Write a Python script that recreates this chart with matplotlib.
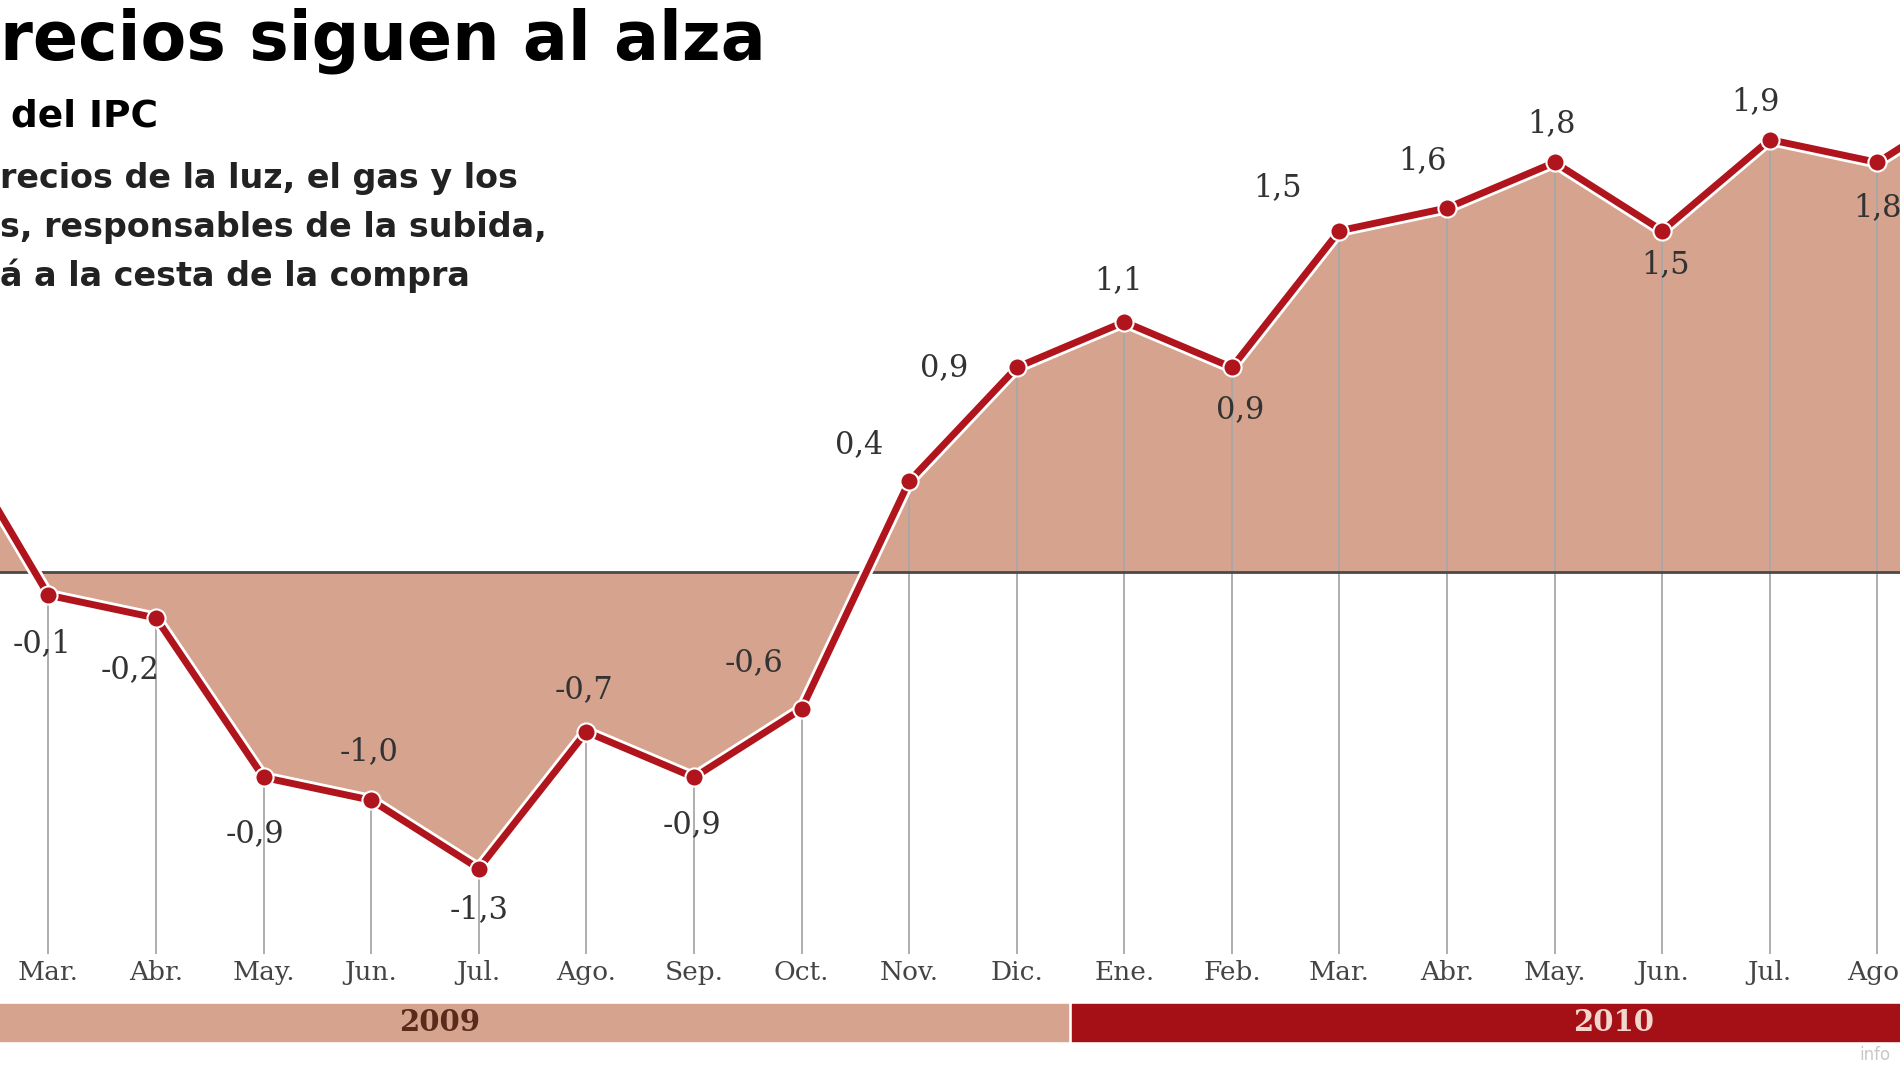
import matplotlib.pyplot as plt
import matplotlib.patheffects as pe
import numpy as np

#%%-------------------- Datos ------------------------------------------------
meses = ["", "Mar.", "Abr.", "May.", "Jun.", "Jul.", "Ago.", "Sep.", "Oct.", "Nov.", "Dic.",
         "Ene.", "Feb.", "Mar.", "Abr.", "May.", "Jun.", "Jul.", "Ago.", ""]
ipc = [0.7, -0.1, -0.2, -0.9, -1.0, -1.3, -0.7, -0.9, -0.6, 0.4, 0.9,
       1.1, 0.9, 1.5, 1.6, 1.8, 1.5, 1.9, 1.8, 2.1]
etiquetas = ["", "-0,1", "-0,2", "-0,9", "-1,0", "-1,3", "-0,7", "-0,9", "-0,6", "0,4", "0,9",
             "1,1", "0,9", "1,5", "1,6", "1,8", "1,5", "1,9", "1,8", ""]
# desplazamiento de cada etiqueta (px de la imagen de referencia)
offs = [(0, 0), (-5, -40), (-21, -43), (-7, -46), (-2, 40), (0, -34), (-2, 35), (-2, -39), (-39, 38),
        (-41, 30), (-60, 0), (-5, 34), (7, -35), (-51, 36), (-20, 39), (-3, 32), (3, -28),
        (-12, 31), (0, -37), (0, 0)]

#%%-------------------- Figura -----------------------------------------------
fig = plt.figure(figsize=(19, 10.69), dpi=100)
ax = fig.add_axes([0, 0, 1, 1])
ax.axis("off")
x = np.arange(len(ipc))
ax.set_xlim(0.55, 18.21)
ax.set_ylim(-2.18, 2.513)

rojo = "#b0141c"
salmon = "#d6a48e"
ax.fill_between(x, ipc, 0, color=salmon, interpolate=True, zorder=1)
ax.vlines(x, -1.675, ipc, color="#a8a8a8", lw=1.3, zorder=2)
ax.axhline(0, color="#4a4a4a", lw=2, zorder=3)
ax.plot(x, ipc, color=rojo, lw=5, zorder=4,
        path_effects=[pe.Stroke(linewidth=9, foreground="white"), pe.Normal()])
ax.scatter(x, ipc, s=170, color=rojo, edgecolor="white", linewidth=1.5, zorder=5)

k = 1.2117 * 0.72
for xi, v, t, (dx, dy) in zip(x, ipc, etiquetas, offs):
    if t:
        ax.annotate(t, (xi, v), xytext=(dx * k, dy * k), textcoords="offset points",
                    ha="center", va="center", fontsize=22, family="DejaVu Serif", color="#333333")

for xi, m in zip(x, meses):
    if m:
        ax.text(xi, -1.755, m, ha="center", va="center", fontsize=19, family="DejaVu Serif", color="#444444")

# barras de año
ax.fill_between([0.55, 10.48], -2.055, -1.895, color=salmon)
ax.fill_between([10.51, 18.21], -2.055, -1.895, color="#a50f16")
ax.text(4.64, -1.975, "2009", ha="center", va="center", fontsize=21, weight="bold",
        family="DejaVu Serif", color="#5a2a1a")
ax.text(15.55, -1.975, "2010", ha="center", va="center", fontsize=21, weight="bold",
        family="DejaVu Serif", color="#f3d6cc")
ax.text(0.995, 0.005, "info", transform=ax.transAxes, ha="right", va="bottom",
        fontsize=12, color="#c8c8c8")

#%%-------------------- Títulos ----------------------------------------------
fig.text(0.0, 0.962, "recios siguen al alza", fontsize=48, weight="heavy", va="center")
fig.text(0.006, 0.891, "del IPC", fontsize=27, weight="bold", va="center")
for i, s in enumerate(["recios de la luz, el gas y los",
                       "s, responsables de la subida,",
                       "á a la cesta de la compra"]):
    fig.text(0.0, 0.833 - i * 0.0455, s, fontsize=24, weight="bold", va="center", color="#222222")

fig.savefig("out.png", dpi=100)
